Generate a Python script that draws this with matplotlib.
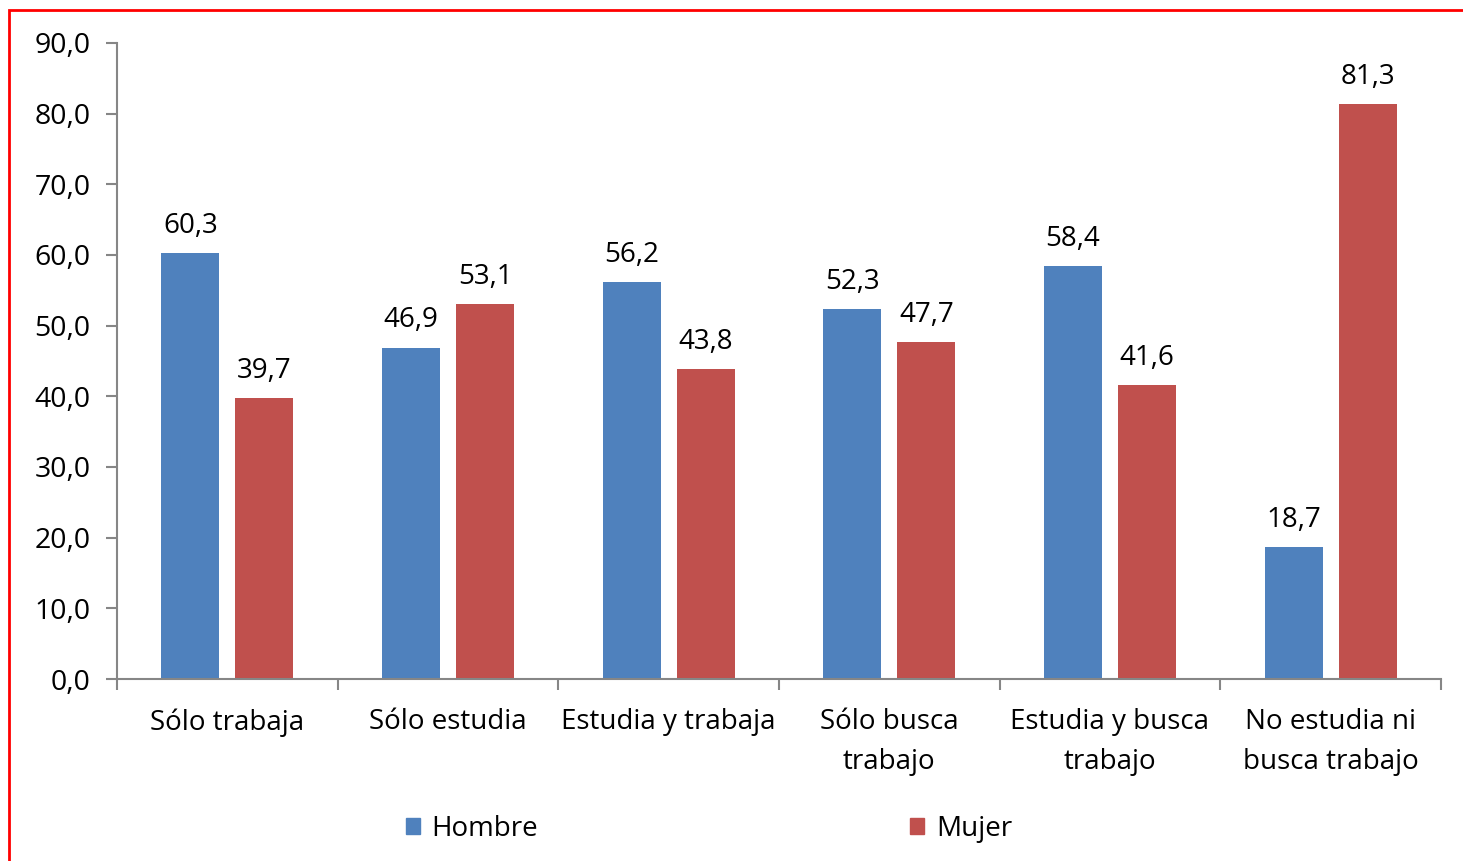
import matplotlib
matplotlib.use("Agg")
import matplotlib.pyplot as plt
from matplotlib.patches import Patch, Rectangle
import numpy as np

categories = ["Sólo trabaja", "Sólo estudia", "Estudia y trabaja",
              "Sólo busca\ntrabajo", "Estudia y busca\ntrabajo", "No estudia ni\nbusca trabajo"]
hombre = [60.3, 46.9, 56.2, 52.3, 58.4, 18.7]
mujer = [39.7, 53.1, 43.8, 47.7, 41.6, 81.3]
yticks = [0, 10, 20, 30, 40, 50, 60, 70, 80, 90]
series_names = ["Hombre", "Mujer"]

blue = "#4F81BD"
red = "#C0504D"
gray = "#868686"
FONT = "Open Sans"
plt.rcParams["font.family"] = [FONT, "DejaVu Sans"]

fig = plt.figure(figsize=(14.63, 8.61), dpi=100)
ax = fig.add_axes([117/1463, 1-679/861, (1441-117)/1463, (679-43)/861])

x = np.arange(len(categories))
w = 0.263
off = 0.168
b1 = ax.bar(x - off, hombre, w, color=blue)
b2 = ax.bar(x + off, mujer, w, color=red)

fs = 20
for bars, vals in ((b1, hombre), (b2, mujer)):
    for r, v in zip(bars, vals):
        ax.annotate(f"{v:.1f}".replace(".", ","), (r.get_x() + r.get_width()/2, v),
                    xytext=(0, 9.5), textcoords="offset points", ha="center", va="bottom",
                    fontsize=fs, color="black")

ax.set_xlim(-0.5, len(categories) - 0.5)
ax.set_ylim(0, 90)
ax.set_yticks(yticks)
ax.set_yticklabels([f"{t:.1f}".replace(".", ",") for t in yticks], fontsize=fs + 0.5)
ax.set_xticks(np.arange(len(categories) + 1) - 0.5)
ax.set_xticklabels([])
ax.set_xticks(x, minor=True)
ax.set_xticklabels(categories, minor=True, fontsize=fs, linespacing=1.55)
ax.tick_params(axis="x", which="minor", length=0, pad=21)
ax.tick_params(axis="x", which="major", length=8, color=gray, width=1.5, direction="out")
ax.tick_params(axis="y", length=8, color=gray, width=1.5, pad=11)
for s in ("top", "right"):
    ax.spines[s].set_visible(False)
for s in ("left", "bottom"):
    ax.spines[s].set_color(gray)
    ax.spines[s].set_linewidth(1.5)

handles = [Patch(color=blue), Patch(color=red)]
fig.legend(handles, series_names, loc="center", bbox_to_anchor=(709/1463, 1-829/861),
           ncol=2, frameon=False, fontsize=fs, handlelength=0.5, handleheight=0.5,
           handletextpad=0.43, columnspacing=13.4)

# outer red border
fig.patches.append(Rectangle((9/1463, -0.05), 1.1, 1 - 10/861 + 0.05, transform=fig.transFigure,
                             fill=False, edgecolor="#FF0000", linewidth=2, clip_on=False))

fig.savefig("out.png", dpi=100)
